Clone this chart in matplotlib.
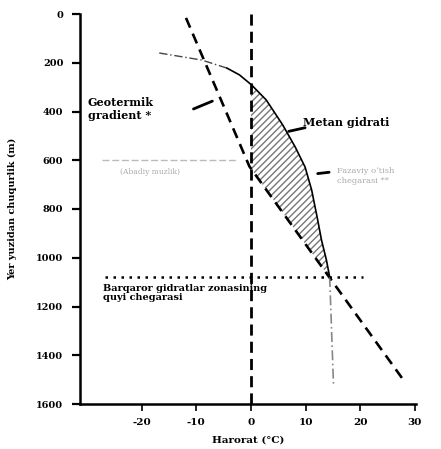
import matplotlib
matplotlib.use("Agg")
import matplotlib.pyplot as plt
import numpy as np

# ---- data ----
geotherm_temp = [-11.9, -0.3, 28.3]
geotherm_depth = [16, 625, 1514]

hydrate_temp = [-16.8, -9.0, -4.4, -2.1, 0.1, 2.8, 5.8, 8.1, 9.9, 11.1, 12.1, 12.9, 13.8, 14.4, 15.1]
hydrate_depth = [160, 189, 222, 250, 291, 353, 455, 546, 628, 722, 833, 927, 1009, 1079, 1522]

stability_base_depth = 1080
stability_base_temp = [-26.7, 20.5]
permafrost_depth = 600
permafrost_temp = [-27.2, -2.6]
zero_line_temp = 0

xticks = [-20, -10, 0, 10, 20, 30]
yticks = [0, 200, 400, 600, 800, 1000, 1200, 1400, 1600]

plt.rcParams['font.family'] = ['DejaVu Serif']
plt.rcParams['font.weight'] = 'bold'

W, H = 441, 449
fig = plt.figure(figsize=(W / 100, H / 100), dpi=100)
ax = fig.add_axes([80 / W, 1 - 404 / H, (416 - 80) / W, (404 - 14) / H])

ax.set_xlim(-31.3, 30.2)
ax.set_ylim(1600, 0)
for s in ['top', 'right']:
    ax.spines[s].set_visible(False)
for s in ['left', 'bottom']:
    ax.spines[s].set_linewidth(1.8)

ax.set_xticks(xticks)
ax.set_yticks(yticks)
ax.tick_params(axis='y', length=6, width=1.6, labelsize=7, pad=6)
ax.tick_params(axis='x', length=5, width=1.2, labelsize=7.5, pad=5)
ax.set_xticklabels([str(v) for v in xticks], fontweight='bold')
ax.set_yticklabels([str(v) for v in yticks], fontweight='bold')

ax.set_ylabel('Yer yuzidan chuqurlik (m)', fontsize=7, fontweight='bold', labelpad=14)
ax.set_xlabel('Harorat (°C)', fontsize=7.5, fontweight='bold', labelpad=6)

ht = np.array(hydrate_temp)
hd = np.array(hydrate_depth)
gt = np.array(geotherm_temp)
gd = np.array(geotherm_depth)

# hatched region: right of x=0 / geotherm, left of hydrate curve
d_grid = np.linspace(291, stability_base_depth, 200)
right = np.interp(d_grid, hd, ht)
left = np.maximum(zero_line_temp, np.interp(d_grid, gd, gt))
ax.fill_betweenx(d_grid, left, right, where=right >= left, facecolor='none',
                 edgecolor='#777777', hatch='/////', linewidth=0)

# zero line
ax.axvline(zero_line_temp, color='black', linestyle=(0, (4, 2.2)), linewidth=2.0)

# geotherm
ax.plot(gt, gd, color='black', linestyle=(0, (4, 2.5)), linewidth=1.9)

# hydrate phase boundary
m1 = hd <= 222
ax.plot(ht[m1], hd[m1], color='#444444', linestyle=(0, (6, 2, 1, 2)), linewidth=1.0)
m2 = (hd >= 222) & (hd <= 1079)
ax.plot(ht[m2], hd[m2], color='black', linewidth=1.2)
m3 = hd >= 1079
ax.plot(ht[m3], hd[m3], color='#888888', linestyle=(0, (6, 2, 1, 2)), linewidth=1.2)

# base of hydrate stability zone
ax.plot(stability_base_temp, [stability_base_depth] * 2, color='black',
        linestyle=(0, (1, 2.2)), linewidth=1.8)

# permafrost base
ax.plot(permafrost_temp, [permafrost_depth] * 2, color='#bbbbbb',
        linestyle=(0, (5, 2)), linewidth=1.0)

# annotations
def fx(px):
    return px / W

def fy(py):
    return 1 - py / H

fig.text(fx(88), fy(109), 'Geotermik\ngradient *', fontsize=8, fontweight='bold',
         va='center', ha='left', linespacing=1.15)
ax.annotate('', xy=(-6.6, 353), xytext=(-11.0, 394),
            arrowprops=dict(arrowstyle='-', color='black', lw=2.0))

fig.text(fx(303), fy(123), 'Metan gidrati', fontsize=8, fontweight='bold',
         va='center', ha='left')
ax.annotate('', xy=(6.4, 484), xytext=(10.4, 464),
            arrowprops=dict(arrowstyle='-', color='black', lw=2.0))

fig.text(fx(337), fy(176), 'Fazaviy o‘tish\nchegarasi **', fontsize=6, fontweight='normal',
         color='#aaaaaa', va='center', ha='left', linespacing=1.2)
ax.annotate('', xy=(11.7, 656), xytext=(14.8, 648),
            arrowprops=dict(arrowstyle='-', color='black', lw=2.0))

fig.text(fx(150), fy(172), '(Abadiy muzlik)', fontsize=5.5, color='#aaaaaa',
         fontweight='normal', va='center', ha='center')

fig.text(fx(103), fy(293), 'Barqaror gidratlar zonasining\nquyi chegarasi', fontsize=7,
         fontweight='bold', va='center', ha='left', linespacing=1.1)

fig.savefig('out.png', dpi=100)
